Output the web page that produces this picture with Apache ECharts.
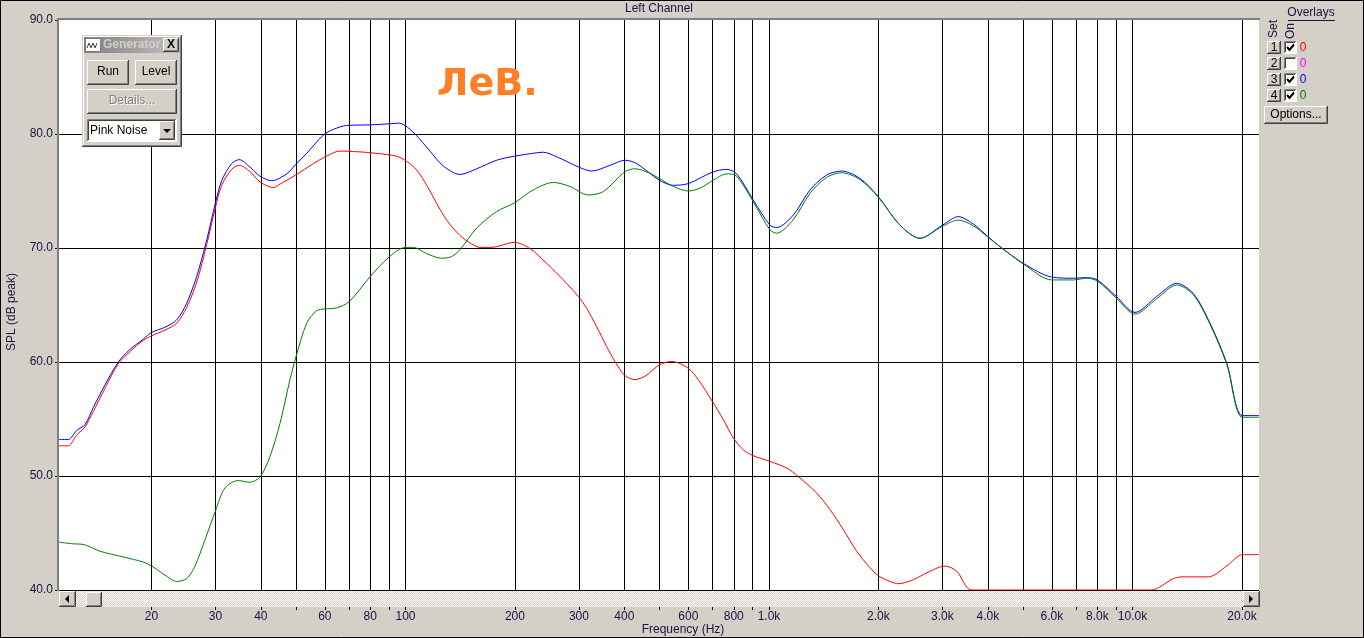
<!DOCTYPE html>
<html><head><meta charset="utf-8">
<script src="https://cdn.jsdelivr.net/npm/echarts@6/dist/echarts.min.js"></script>
<style>html,body{margin:0;padding:0;background:#d4d0c8;overflow:hidden}#c{width:1364px;height:638px}</style>
</head><body><div id="c"></div>
<script>
// ---- data ----
const redFreq = [11.14, 11.81, 12.46, 13.13, 13.84, 14.91, 16.22, 17.46, 19.0, 20.04, 21.8, 23.48, 25.01, 26.65, 28.39, 29.98, 31.22, 33.25, 34.89, 37.35, 39.79, 43.28, 45.15, 49.88, 55.77, 59.78, 66.04, 73.4, 83.33, 94.59, 100.8, 107.4, 114.4, 121.9, 129.8, 141.2, 152.1, 160.3, 172.7, 199.2, 220.0, 244.6, 271.8, 298.8, 315.1, 335.7, 357.7, 376.9, 400.0, 427.9, 460.9, 499.2, 539.9, 599.8, 639.0, 698.3, 748.6, 797.5, 849.6, 902.0, 1002, 1119, 1204, 1353, 1472, 1601, 1743, 1896, 1999, 2152, 2268, 2494, 2716, 3049, 3284, 3612, 11240, 12950, 13660, 16160, 18160, 20050, 22280];
const redDb = [52.65, 52.65, 53.6, 54.3, 55.65, 57.7, 59.85, 60.9, 61.9, 62.3, 62.8, 63.4, 64.8, 67.0, 70.3, 73.5, 75.5, 76.9, 77.25, 76.7, 75.8, 75.3, 75.6, 76.4, 77.4, 77.95, 78.5, 78.45, 78.3, 78.05, 77.6, 76.85, 75.5, 73.9, 72.45, 71.1, 70.35, 70.05, 70.05, 70.5, 69.95, 68.65, 67.2, 65.75, 64.7, 63.1, 61.35, 60.05, 58.85, 58.45, 58.85, 59.75, 60.05, 59.45, 58.45, 56.55, 54.95, 53.35, 52.3, 51.8, 51.3, 50.7, 49.95, 48.5, 47.05, 45.3, 43.4, 41.95, 41.25, 40.75, 40.55, 40.9, 41.5, 42.1, 41.65, 40.0, 40.0, 41.0, 41.15, 41.15, 42.1, 43.1, 43.1];

const blueFreq = [11.14, 11.81, 12.46, 13.13, 13.84, 14.91, 16.22, 17.46, 19.0, 20.04, 21.8, 23.48, 25.01, 26.65, 28.39, 29.98, 31.22, 33.25, 34.89, 37.35, 39.79, 42.84, 47.12, 49.82, 53.49, 59.4, 63.3, 68.9, 79.86, 90.66, 95.55, 99.68, 106.2, 116.8, 127.0, 141.2, 157.0, 178.2, 199.2, 229.6, 239.4, 260.6, 299.6, 325.3, 365.3, 401.8, 432.6, 499.2, 545.5, 599.8, 698.3, 764.9, 814.9, 905.4, 1006, 1050, 1167, 1297, 1441, 1585, 1780, 1999, 2293, 2603, 2998, 3317, 3649, 3986, 4367, 5007, 5995, 6874, 7482, 8002, 9024, 10160, 11660, 13230, 14700, 16340, 18160, 20050, 22280];
const blueDb = [53.2, 53.2, 54.0, 54.5, 56.0, 58.0, 60.0, 61.1, 62.0, 62.6, 63.05, 63.7, 65.15, 67.5, 70.7, 73.9, 75.9, 77.4, 77.75, 77.1, 76.3, 75.9, 76.5, 77.3, 78.3, 79.9, 80.4, 80.75, 80.8, 80.9, 80.95, 80.75, 80.0, 78.5, 77.2, 76.45, 76.95, 77.7, 78.05, 78.35, 78.4, 78.0, 77.1, 76.75, 77.25, 77.7, 77.4, 75.95, 75.5, 75.65, 76.65, 76.9, 76.5, 74.2, 72.0, 71.8, 72.9, 75.1, 76.4, 76.75, 76.1, 74.5, 72.0, 70.85, 72.0, 72.75, 72.1, 71.05, 70.0, 68.65, 67.45, 67.35, 67.4, 67.2, 65.75, 64.35, 65.75, 66.9, 66.0, 63.4, 59.9, 55.3, 55.3];

const greenFreq = [11.14, 12.19, 12.99, 14.44, 16.74, 19.0, 20.04, 21.8, 23.48, 25.01, 26.36, 28.08, 29.98, 31.88, 34.67, 37.35, 39.87, 42.38, 45.15, 48.11, 49.88, 53.49, 56.98, 59.78, 64.67, 70.05, 80.01, 89.69, 99.87, 105.1, 114.4, 125.8, 134.0, 141.2, 157.0, 178.2, 199.2, 224.7, 255.1, 283.5, 318.3, 350.1, 401.8, 427.9, 470.7, 499.2, 545.5, 599.8, 645.9, 698.3, 764.9, 806.2, 849.6, 905.4, 1006, 1050, 1167, 1297, 1441, 1585, 1780, 1999, 2293, 2603, 2998, 3317, 3649, 3986, 4367, 5007, 5995, 6874, 7482, 8002, 9024, 10160, 11660, 13230, 14700, 16340, 18160, 20050, 22280];
const greenDb = [44.2, 44.05, 44.0, 43.4, 42.9, 42.45, 42.1, 41.3, 40.75, 41.0, 42.1, 44.4, 46.9, 48.95, 49.6, 49.45, 49.95, 51.7, 54.6, 58.45, 60.35, 63.4, 64.5, 64.65, 64.75, 65.3, 67.5, 69.15, 70.05, 70.05, 69.5, 69.1, 69.25, 69.85, 71.75, 73.2, 73.95, 75.1, 75.75, 75.4, 74.65, 74.95, 76.7, 76.95, 76.55, 76.1, 75.4, 75.0, 75.25, 75.9, 76.5, 76.4, 75.5, 74.05, 71.6, 71.3, 72.5, 74.8, 76.2, 76.6, 76.0, 74.45, 72.0, 70.85, 71.9, 72.45, 71.95, 71.0, 70.0, 68.6, 67.2, 67.2, 67.35, 67.1, 65.6, 64.2, 65.55, 66.75, 65.9, 63.3, 59.8, 55.15, 55.15];

const gridFreqs = [20, 30, 40, 50, 60, 70, 80, 90, 100, 200, 300, 400, 500, 600, 700, 800, 900, 1000, 2000, 3000, 4000, 5000, 6000, 7000, 8000, 9000, 10000, 20000];
const labelFreqs = [20, 30, 40, 60, 80, 100, 200, 300, 400, 600, 800, 1000, 2000, 3000, 4000, 6000, 8000, 10000, 20000];
const freqMin = 11.14, freqMax = 22280;
const dbMin = 40, dbMax = 90, dbStep = 10;

// ---- rendering ----
const FONT = "'Liberation Sans', Arial, sans-serif";
const TXT = '#141440';
const chart = echarts.init(document.getElementById('c'), null, {renderer: 'canvas'});
const pair = (f, d) => f.map((v, i) => [v, d[i]]);

function txt(x, y, s, o) {
  o = o || {};
  return {type: 'text', x: x, y: y, z: o.z || 20, rotation: o.rot || 0,
    style: {text: s, fill: o.fill || TXT, font: (o.weight || 'normal') + ' ' + (o.size || 12) + 'px ' + (o.family || FONT),
      align: o.align || 'center', verticalAlign: o.va || 'middle', textAlign: o.align || 'center', textVerticalAlign: o.va || 'middle'}};
}
function line(pts, color, w, z) {
  return {type: 'polyline', z: z || 20, shape: {points: pts}, style: {stroke: color, fill: null, lineWidth: w || 1}};
}
function rect(x, y, w, h, fill, z, stroke) {
  return {type: 'rect', z: z || 20, shape: {x: x, y: y, width: w, height: h}, style: {fill: fill, stroke: stroke || null, lineWidth: 1}};
}
function button(x, y, w, h, z) {
  z = z || 20;
  return [
    rect(x, y, w, h, '#d4d0c8', z),
    line([[x + 0.5, y + h - 1], [x + 0.5, y + 0.5], [x + w - 1, y + 0.5]], '#ffffff', 1, z + 1),
    line([[x, y + h - 0.5], [x + w - 0.5, y + h - 0.5], [x + w - 0.5, y]], '#404040', 1, z + 1),
    line([[x + 1, y + h - 1.5], [x + w - 1.5, y + h - 1.5], [x + w - 1.5, y + 1]], '#808080', 1, z + 1)
  ];
}
function sunken(x, y, w, h, fill, z) {
  z = z || 20;
  return [
    rect(x, y, w, h, fill, z),
    line([[x + 0.5, y + h - 1], [x + 0.5, y + 0.5], [x + w - 1, y + 0.5]], '#808080', 1, z + 1),
    line([[x + 1.5, y + h - 2], [x + 1.5, y + 1.5], [x + w - 2, y + 1.5]], '#404040', 1, z + 1),
    line([[x, y + h - 0.5], [x + w - 0.5, y + h - 0.5], [x + w - 0.5, y]], '#ffffff', 1, z + 1)
  ];
}

// scrollbar dither pattern
const pc = document.createElement('canvas'); pc.width = 2; pc.height = 2;
const pg = pc.getContext('2d');
pg.fillStyle = '#d4d0c8'; pg.fillRect(0, 0, 2, 2);
pg.fillStyle = '#ffffff'; pg.fillRect(0, 0, 1, 1); pg.fillRect(1, 1, 1, 1);

const G = [];
// outer frame
G.push({type: 'rect', z: 200, shape: {x: 0.5, y: 0.5, width: 1363, height: 637}, style: {fill: null, stroke: '#000', lineWidth: 1}});
// plot sunken border
G.push(rect(57, 18, 2, 573, '#808080', 30));
G.push(rect(57, 18, 1203, 2, '#808080', 30));
// scrollbar
G.push({type: 'rect', z: 30, shape: {x: 59, y: 591, width: 1201, height: 16}, style: {fill: {image: pc, repeat: 'repeat'}}});
G.push(...button(59, 591, 17, 16, 31));
G.push({type: 'polygon', z: 35, shape: {points: [[65, 599], [69, 595], [69, 603]]}, style: {fill: '#000'}});
G.push(...button(86, 592, 16, 15, 31));
G.push(...button(1243, 591, 17, 16, 31));
G.push({type: 'polygon', z: 35, shape: {points: [[1253, 599], [1249, 595], [1249, 603]]}, style: {fill: '#000'}});
// titles
G.push(txt(659, 9, 'Left Channel'));
G.push(txt(12, 312, 'SPL (dB peak)', {rot: Math.PI / 2}));
G.push(txt(683, 630, 'Frequency (Hz)'));
// handwritten note
G.push(txt(437, 104, 'ЛеВ.', {fill: '#ff7f27', size: 38, weight: 'bold', align: 'left', va: 'bottom', family: "'DejaVu Sans', sans-serif"}));

// overlays panel
G.push(txt(1311, 13, 'Overlays'));
G.push(line([[1288, 20.5], [1335, 20.5]], TXT, 1));
G.push(txt(1274, 29, 'Set', {rot: Math.PI / 2}));
G.push(txt(1291, 31, 'On', {rot: Math.PI / 2}));
const rowY = [41, 57, 73, 89];
const rowLab = ['1', '2', '3', '4'];
const rowCol = ['#ff0000', '#ff00ff', '#0000ff', '#008000'];
const rowOn = [true, false, true, true];
rowY.forEach((y, i) => {
  G.push(...button(1267, y, 14, 13));
  G.push(txt(1274, y + 7, rowLab[i], {fill: '#000'}));
  G.push(...sunken(1284, y, 13, 13, '#ffffff'));
  if (rowOn[i]) G.push(line([[1287, y + 6], [1289.5, y + 9], [1294, y + 3.5]], '#000', 2, 25));
  G.push(txt(1303, y + 7, '0', {fill: rowCol[i]}));
});
G.push(...button(1264, 106, 64, 18));
G.push(txt(1296, 115, 'Options...', {fill: '#000'}));

// generator window
const WZ = 60;
G.push(rect(82, 35, 100, 112, '#d4d0c8', WZ));
G.push(line([[82.5, 146], [82.5, 35.5], [181, 35.5]], '#d4d0c8', 1, WZ + 1));
G.push(line([[83.5, 145], [83.5, 36.5], [180, 36.5]], '#ffffff', 1, WZ + 1));
G.push(line([[82, 146.5], [181.5, 146.5], [181.5, 35]], '#404040', 1, WZ + 1));
G.push(line([[83, 145.5], [180.5, 145.5], [180.5, 36]], '#808080', 1, WZ + 1));
G.push({type: 'rect', z: WZ + 1, shape: {x: 84, y: 37, width: 96, height: 16},
  style: {fill: {type: 'linear', x: 0, y: 0, x2: 1, y2: 0, colorStops: [{offset: 0, color: '#808080'}, {offset: 1, color: '#c0c0c0'}]}}});
G.push(rect(85.5, 38.5, 15, 13, '#ffffff', WZ + 2, '#808080'));
G.push(line([[87, 48], [89, 43], [91, 48], [93, 43], [95, 48], [97, 43]], '#404040', 1, WZ + 3));
G.push(txt(103, 45, 'Generator', {fill: '#d4d0c8', weight: 'bold', align: 'left', z: WZ + 3}));
G.push(...button(163, 38, 16, 14, WZ + 2));
G.push(txt(171, 45, 'X', {fill: '#000', weight: 'bold', size: 12, z: WZ + 5}));
G.push(...button(87, 60, 42, 25, WZ + 2));
G.push(txt(108, 72, 'Run', {fill: '#000', z: WZ + 5}));
G.push(...button(135, 60, 42, 25, WZ + 2));
G.push(txt(156, 72, 'Level', {fill: '#000', z: WZ + 5}));
G.push(...button(87, 89, 90, 25, WZ + 2));
G.push(txt(133, 102, 'Details...', {fill: '#ffffff', z: WZ + 5}));
G.push(txt(132, 101, 'Details...', {fill: '#808080', z: WZ + 6}));
G.push(...sunken(87, 119, 90, 23, '#ffffff', WZ + 2));
G.push(txt(90, 131, 'Pink Noise', {fill: '#000', align: 'left', z: WZ + 5}));
G.push(...button(159, 121, 16, 19, WZ + 4));
G.push({type: 'polygon', z: WZ + 7, shape: {points: [[163, 129], [171, 129], [167, 133]]}, style: {fill: '#000'}});

const fmtFreq = v => { v = Math.round(v); return v >= 1000 ? (v / 1000).toFixed(1) + 'k' : String(v); };

const mk = (name, data, color) => ({
  name: name, type: 'line', data: data, showSymbol: false, symbol: 'none', smooth: 0.3,
  lineStyle: {color: color, width: 1}, itemStyle: {color: color}, silent: true, animation: false
});

chart.setOption({
  backgroundColor: '#d4d0c8',
  animation: false,
  grid: {left: 59, right: 105, top: 20, bottom: 48, show: true, backgroundColor: '#ffffff', borderWidth: 0, containLabel: false},
  xAxis: {
    type: 'log', logBase: 10, min: freqMin, max: freqMax, offset: 17,
    axisLine: {show: false},
    axisTick: {show: true, customValues: gridFreqs, length: 3, lineStyle: {color: '#000'}},
    axisLabel: {show: true, customValues: labelFreqs, formatter: fmtFreq, color: TXT, fontSize: 12, fontFamily: FONT, margin: 4},
    splitLine: {show: true, lineStyle: {color: '#000', width: 1}},
    minorTick: {show: false}, minorSplitLine: {show: false}
  },
  yAxis: {
    type: 'value', min: dbMin, max: dbMax, interval: dbStep,
    axisLine: {show: false},
    axisTick: {show: true, length: 4, lineStyle: {color: '#000'}},
    axisLabel: {formatter: v => v.toFixed(1), color: TXT, fontSize: 12, fontFamily: FONT, margin: 6},
    splitLine: {show: true, showMaxLine: false, lineStyle: {color: '#000', width: 1}}
  },
  graphic: {elements: G},
  series: [
    mk('1', pair(redFreq, redDb), '#ff0000'),
    mk('3', pair(blueFreq, blueDb), '#0000ff'),
    mk('4', pair(greenFreq, greenDb), '#008000')
  ]
});
</script>
</body></html>
